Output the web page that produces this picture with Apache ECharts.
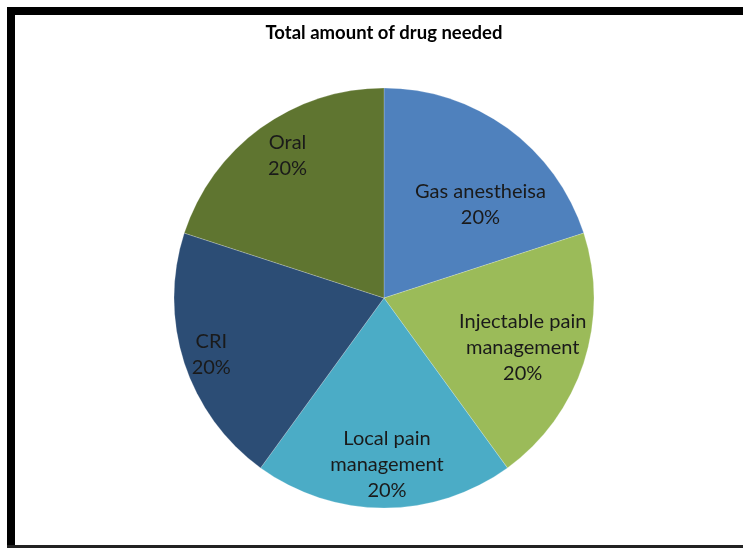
<!DOCTYPE html>
<html>
<head>
<meta charset="utf-8">
<script src="https://cdn.jsdelivr.net/npm/echarts@6/dist/echarts.min.js"></script>
<style>
  html, body { margin: 0; padding: 0; background: #ffffff; }
  #chart { width: 743px; height: 548px; }
</style>
</head>
<body>
<div id="chart"></div>
<script>
// Drug delivery categories and their share of the total amount
const chartTitle = 'Total amount of drug needed';
const categories = ['Gas anestheisa', 'Injectable pain\nmanagement', 'Local pain\nmanagement', 'CRI', 'Oral'];
const values = [20, 20, 20, 20, 20];
const sliceColors = ['#4f81bd', '#9bbb59', '#4bacc6', '#2c4d75', '#5f7530'];

// Nudges for each label away from its default inside anchor
const labelNudge = [[33, -6], [36, 16], [3, 59], [-70, 23], [-33, -55]];

const chart = echarts.init(document.getElementById('chart'), null, { renderer: 'canvas' });

chart.setOption({
  backgroundColor: '#ffffff',
  animation: false,
  graphic: [
    { type: 'rect', shape: { x: 7, y: 7, width: 736, height: 8 }, style: { fill: '#000000' } },
    { type: 'rect', shape: { x: 7, y: 7, width: 8, height: 541 }, style: { fill: '#000000' } },
    { type: 'rect', shape: { x: 7, y: 545, width: 736, height: 3 }, style: { fill: '#222222' } },
    {
      type: 'text',
      x: 384,
      y: 33,
      style: {
        text: chartTitle,
        textAlign: 'center',
        textVerticalAlign: 'middle',
        fontFamily: 'Lato, "Open Sans", sans-serif',
        fontSize: 18.5,
        fontWeight: 'bold',
        fill: '#000000'
      }
    }
  ],
  series: [{
    type: 'pie',
    center: [384, 298],
    radius: 210,
    startAngle: 90,
    clockwise: true,
    avoidLabelOverlap: false,
    itemStyle: { borderColor: 'rgba(255,255,255,0.35)', borderWidth: 0.6 },
    label: {
      show: true,
      position: 'inside',
      formatter: function (p) { return p.name + '\n' + Math.round(p.percent) + '%'; },
      fontFamily: 'Lato, "Open Sans", sans-serif',
      fontSize: 20,
      lineHeight: 26,
      color: '#1a1a1a',
      align: 'center'
    },
    labelLine: { show: false },
    labelLayout: function (params) {
      const n = labelNudge[params.dataIndex];
      return { dx: n[0], dy: n[1] };
    },
    emphasis: { disabled: true },
    data: categories.map(function (name, i) {
      return { name: name, value: values[i], itemStyle: { color: sliceColors[i] } };
    })
  }]
});
</script>
</body>
</html>
